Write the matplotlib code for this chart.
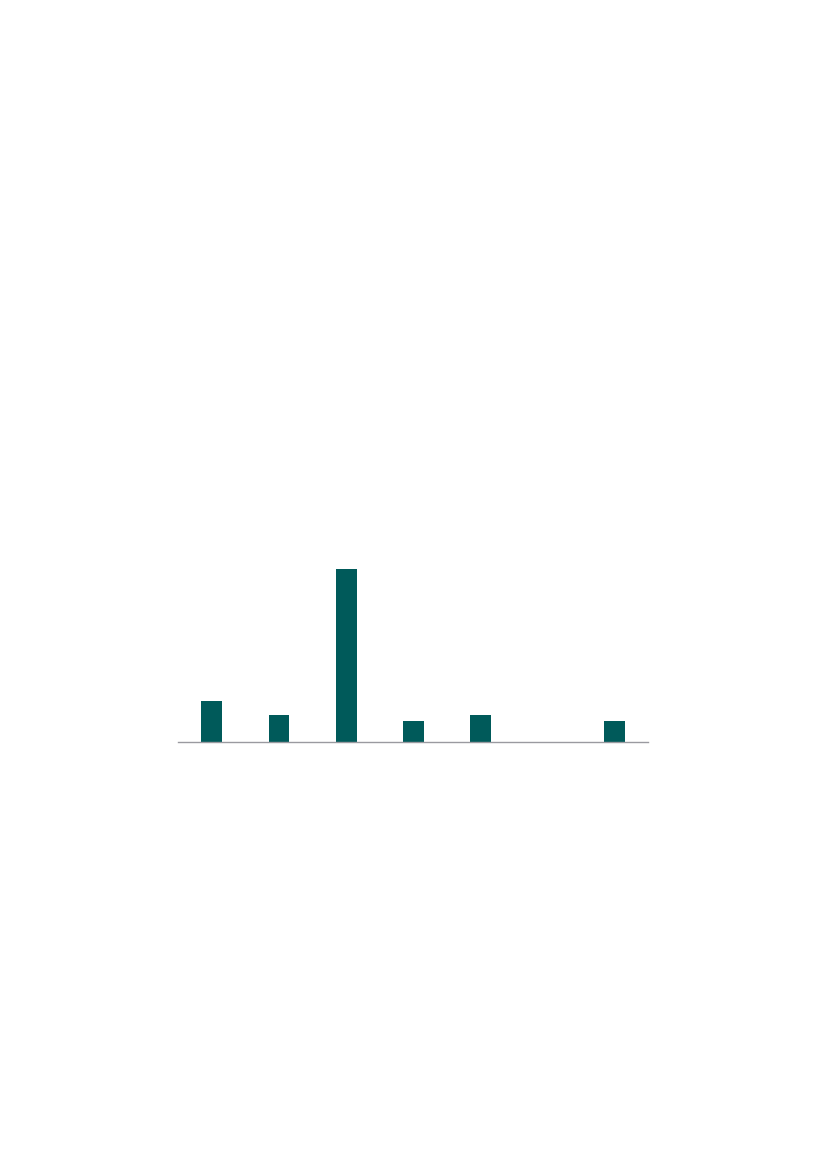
import numpy as np
import matplotlib.pyplot as plt

# Data (no labels are shown in it)
categories = ["1", "2", "3", "4", "5", "6", "7"]
values = [6, 4, 25, 3, 4, 0, 3]

W, H = 827, 1169
fig = plt.figure(figsize=(W / 100, H / 100), dpi=100)

# axes placed to match the reference plot area
left, right = 178.3, 648.3
base, top = 742.3, 568.7
ax = fig.add_axes([left / W, (H - base) / H, (right - left) / W, (base - top) / H])

x = np.arange(len(categories))
ax.bar(x, values, width=0.31, color="#005a5a", clip_on=False)

ax.set_xlim(-0.5, len(categories) - 0.5)
ax.set_ylim(0, 25)

for side in ["top", "right", "left"]:
    ax.spines[side].set_visible(False)
ax.spines["bottom"].set_color("#9a9aa0")
ax.spines["bottom"].set_linewidth(1.0)
ax.set_xticks([])
ax.set_yticks([])
ax.patch.set_alpha(0)

fig.savefig("out.png", dpi=100)
